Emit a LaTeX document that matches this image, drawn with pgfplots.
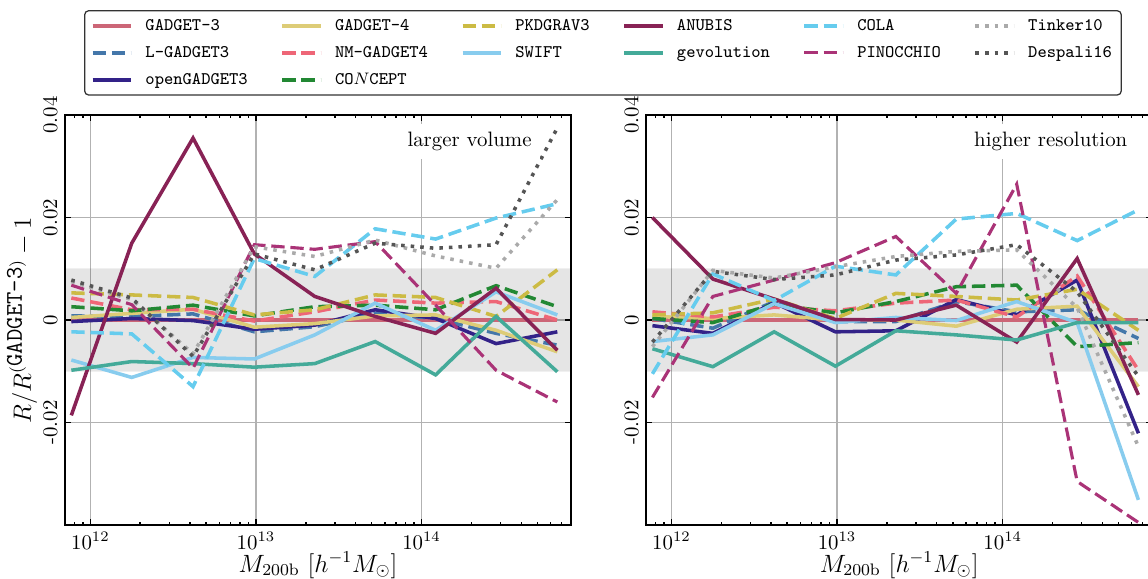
\documentclass[border=0pt]{standalone}
\usepackage{pgfplots}
\usepackage{pgfplotstable}
\pgfplotsset{compat=1.18}

% colours of the codes
\definecolor{cG3}{HTML}{CC6677}
\definecolor{cLG3}{HTML}{4477AA}
\definecolor{cOG3}{HTML}{332288}
\definecolor{cG4}{HTML}{DDCC77}
\definecolor{cNMG4}{HTML}{EE6677}
\definecolor{cPKD}{HTML}{CCBB44}
\definecolor{cSWIFT}{HTML}{88CCEE}
\definecolor{cCONCEPT}{HTML}{228833}
\definecolor{cANUBIS}{HTML}{882255}
\definecolor{cGEV}{HTML}{44AA99}
\definecolor{cCOLA}{HTML}{66CCEE}
\definecolor{cPINO}{HTML}{AA3377}
\definecolor{cTINK}{HTML}{AAAAAA}
\definecolor{cDESP}{HTML}{555555}

\tikzset{
  lw/.style={line width=1.7pt},
  dsh/.style={dash pattern=on 6.4pt off 2.8pt},
  dts/.style={dash pattern=on 1.7pt off 2.9pt},
  sG3/.style={lw, color=cG3, solid},
  sLG3/.style={lw, color=cLG3, dsh},
  sOG3/.style={lw, color=cOG3, solid},
  sG4/.style={lw, color=cG4, solid},
  sNMG4/.style={lw, color=cNMG4, dsh},
  sPKD/.style={lw, color=cPKD, dsh},
  sSWIFT/.style={lw, color=cSWIFT, solid},
  sCONCEPT/.style={lw, color=cCONCEPT, dsh},
  sANUBIS/.style={lw, color=cANUBIS, solid},
  sGEV/.style={lw, color=cGEV, solid},
  sCOLA/.style={lw, color=cCOLA, dsh},
  sPINO/.style={line width=1.5pt, color=cPINO, dsh},
  sTINK/.style={lw, color=cTINK, dts},
  sDESP/.style={lw, color=cDESP, dts},
}

% larger volume
\pgfplotstableread{
M g3 lg3 og3 g4 nmg4 pkd swift concept anubis gev cola pino tink desp
7.674e11 0 0.0008 -0.0003 0.0005 0.0043 0.0053 -0.0078 0.0026 -0.0186 -0.0098 -0.0023 0.0068 0.0075 0.0078
1.778e12 0 0.0007 0.0003 0.0013 0.0020 0.0049 -0.0112 0.0018 0.0150 -0.0081 -0.0027 0.0030 0.0040 0.0043
4.169e12 0 0.0012 -0.0001 0.0021 0.0021 0.0044 -0.0073 0.0029 0.0355 -0.0085 -0.0130 -0.0094 -0.0066 -0.0071
9.772e12 0 -0.0023 -0.0018 -0.0014 -0.0002 0.0010 -0.0076 0.0008 0.0129 -0.0092 0.0120 0.0147 0.0143 0.0129
2.265e13 0 -0.0013 -0.0010 -0.0007 0.0016 0.0020 -0.0029 0.0026 0.0046 -0.0085 0.0085 0.0138 0.0124 0.0098
5.248e13 0 0.0013 0.0020 0.0008 0.0039 0.0049 0.0033 0.0029 0.0007 -0.0042 0.0178 0.0153 0.0156 0.0150
1.216e14 0 0.0003 0.0003 0.0010 0.0033 0.0044 -0.0020 0.0020 -0.0026 -0.0107 0.0158 0.0029 0.0125 0.0140
2.818e14 0 -0.0026 -0.0046 -0.0020 0.0036 0.0007 0.0055 0.0067 0.0062 0.0007 0.0199 -0.0098 0.0101 0.0147
6.607e14 0 -0.0049 -0.0023 -0.0062 0.0000 0.0098 0.0010 0.0026 -0.0059 -0.0101 0.0227 -0.0160 0.0235 0.0375
}\tabL

% higher resolution
\pgfplotstableread{
M g3 lg3 og3 g4 nmg4 pkd swift concept anubis gev cola pino tink desp
7.674e11 0 0.0003 -0.0011 0.0007 0.0016 0.0010 -0.0042 0.0003 0.0200 -0.0056 -0.0105 -0.0151 -0.0052 -0.0043
1.778e12 0 -0.0016 -0.0026 0.0003 0.0006 0.0014 -0.0029 -0.0005 0.0080 -0.0091 0.0090 0.0046 0.0097 0.0095
4.169e12 0 0.0036 0.0034 0.0010 0.0025 0.0041 0.0032 0.0031 0.0041 -0.0023 0.0038 0.0078 0.0082 0.0079
9.772e12 0 -0.0003 -0.0023 0.0000 0.0018 0.0003 -0.0005 0.0014 0.0001 -0.0090 0.0105 0.0112 0.0104 0.0088
2.265e13 0 -0.0003 -0.0021 0.0000 0.0033 0.0052 0.0005 0.0036 0.0000 -0.0021 0.0088 0.0163 0.0124 0.0117
5.248e13 0 0.0036 0.0040 -0.0012 0.0039 0.0046 -0.0001 0.0065 0.0029 -0.0029 0.0197 0.0052 0.0134 0.0127
1.216e14 0 0.0016 0.0010 0.0021 0.0006 0.0039 0.0036 0.0068 -0.0043 -0.0039 0.0208 0.0265 0.0137 0.0147
2.818e14 0 0.0020 0.0078 0.0027 0.0086 0.0060 -0.0005 -0.0052 0.0120 -0.0005 0.0155 -0.0315 0.0024 0.0055
6.607e14 0 -0.0036 -0.0221 -0.0130 -0.0098 -0.0020 -0.0351 -0.0044 -0.0146 -0.0005 0.0215 -0.0395 -0.0247 -0.0110
}\tabR

% band and all fourteen curves of one panel
\newcommand{\drawcurves}[1]{%
  \fill[black, fill opacity=0.1] (axis cs:7.03e11,-0.01) rectangle (axis cs:8.0e14,0.01);
  \draw[black, draw opacity=0.06, line width=0.6pt] (axis cs:7.03e11,-0.01) -- (axis cs:8.0e14,-0.01);
  \draw[black, draw opacity=0.06, line width=0.6pt] (axis cs:7.03e11,0.01) -- (axis cs:8.0e14,0.01);
  \addplot[sG3, forget plot] table[x=M, y=g3] {#1};
  \addplot[sLG3, forget plot] table[x=M, y=lg3] {#1};
  \addplot[sOG3, forget plot] table[x=M, y=og3] {#1};
  \addplot[sG4, forget plot] table[x=M, y=g4] {#1};
  \addplot[sNMG4, forget plot] table[x=M, y=nmg4] {#1};
  \addplot[sCONCEPT, forget plot] table[x=M, y=concept] {#1};
  \addplot[sPKD, forget plot] table[x=M, y=pkd] {#1};
  \addplot[sSWIFT, forget plot] table[x=M, y=swift] {#1};
  \addplot[sANUBIS, forget plot] table[x=M, y=anubis] {#1};
  \addplot[sGEV, forget plot] table[x=M, y=gev] {#1};
  \addplot[sCOLA, forget plot] table[x=M, y=cola] {#1};
  \addplot[sPINO, forget plot] table[x=M, y=pino] {#1};
  \addplot[sTINK, forget plot] table[x=M, y=tink] {#1};
  \addplot[sDESP, forget plot] table[x=M, y=desp] {#1};
}

\begin{document}
\begin{tikzpicture}
\useasboundingbox (-31.2pt,-25.9pt) rectangle (519.8pt,252pt);

\begin{axis}[
  xmode=log, scale only axis,
  width=242.9pt, height=196.8pt,
  xmin=7.03e11, xmax=8.0e14, ymin=-0.04, ymax=0.04,
  ytick={-0.02,0,0.02,0.04}, yticklabels={-0.02,0,0.02,0.04},
  scaled y ticks=false,
  yticklabel style={rotate=90, anchor=south},
  tick label style={font=\fontsize{10}{12}\selectfont},
  tick align=inside, major tick length=3pt, minor tick length=1.6pt,
  tick style={black, line width=0.7pt},
  axis line style={line width=0.9pt},
  grid=major, major grid style={line width=0.6pt, draw=black!30},
  xlabel={$M_{200\mathrm{b}}\ [h^{-1}M_\odot]$},
  xlabel style={font=\fontsize{11.5}{13}\selectfont, at={(axis description cs:0.5,-0.098)}, anchor=center},
  ylabel={$R/R^{(\texttt{GADGET-3})}-1$},
  ylabel style={font=\fontsize{11.5}{13}\selectfont, at={(axis description cs:-0.085,0.5)}, anchor=center},
  legend columns=6,
  legend cell align=left,
  legend image code/.code={\draw[#1] (0pt,0pt) -- (18.4pt,0pt);},
  legend style={at={(axis description cs:0.0375,1.256)}, anchor=north west,
    draw=black!80, line width=0.6pt, rounded corners=2pt,
    inner xsep=3pt, inner ysep=2pt, row sep=2.5pt, column sep=4.6pt,
    font=\fontsize{8.5}{10}\selectfont\ttfamily,
    nodes={inner sep=1.5pt, text height=6pt, text depth=1.5pt},
    /tikz/every even column/.append style={column sep=14.2pt}},
]
\drawcurves{\tabL}
\node[anchor=north east, fill=white, inner sep=4pt, font=\fontsize{10}{12}\selectfont]
  at (rel axis cs:0.939,0.98) {larger volume};

\addlegendimage{sG3}\addlegendentry{GADGET-3}
\addlegendimage{sG4}\addlegendentry{GADGET-4}
\addlegendimage{sPKD}\addlegendentry{PKDGRAV3}
\addlegendimage{sANUBIS}\addlegendentry{ANUBIS}
\addlegendimage{sCOLA}\addlegendentry{COLA}
\addlegendimage{sTINK}\addlegendentry{Tinker10}
\addlegendimage{sLG3}\addlegendentry{L-GADGET3}
\addlegendimage{sNMG4}\addlegendentry{NM-GADGET4}
\addlegendimage{sSWIFT}\addlegendentry{SWIFT}
\addlegendimage{sGEV}\addlegendentry{gevolution}
\addlegendimage{sPINO}\addlegendentry{PINOCCHIO}
\addlegendimage{sDESP}\addlegendentry{Despali16}
\addlegendimage{sOG3}\addlegendentry{openGADGET3}
\addlegendimage{sCONCEPT}\addlegendentry{CO$N$CEPT}
\end{axis}

\begin{axis}[
  at={(278.9pt,0pt)}, anchor=south west,
  xmode=log, scale only axis,
  width=242.9pt, height=196.8pt,
  xmin=7.03e11, xmax=8.0e14, ymin=-0.04, ymax=0.04,
  ytick={-0.02,0,0.02,0.04}, yticklabels={-0.02,0,0.02,0.04},
  scaled y ticks=false,
  yticklabel style={rotate=90, anchor=south},
  tick label style={font=\fontsize{10}{12}\selectfont},
  tick align=inside, major tick length=3pt, minor tick length=1.6pt,
  tick style={black, line width=0.7pt},
  axis line style={line width=0.9pt},
  grid=major, major grid style={line width=0.6pt, draw=black!30},
  xlabel={$M_{200\mathrm{b}}\ [h^{-1}M_\odot]$},
  xlabel style={font=\fontsize{11.5}{13}\selectfont, at={(axis description cs:0.5,-0.098)}, anchor=center},
]
\drawcurves{\tabR}
\node[anchor=north east, fill=white, inner sep=4pt, font=\fontsize{10}{12}\selectfont]
  at (rel axis cs:0.968,0.98) {higher resolution};
\end{axis}
\end{tikzpicture}
\end{document}
